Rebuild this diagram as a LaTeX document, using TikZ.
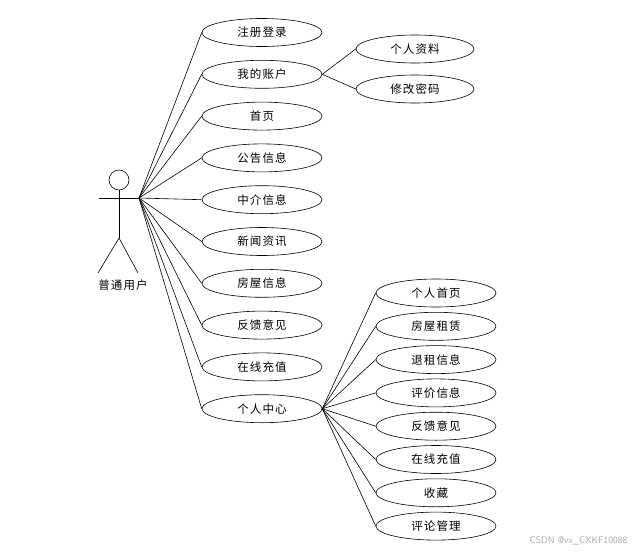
\documentclass[tikz,border=0pt]{standalone}
\usepackage{fontspec}
\newfontfamily\cjk[LetterSpace=10]{Noto Sans CJK SC}
\usetikzlibrary{positioning, shapes.geometric}

\begin{document}
\begin{tikzpicture}[
  x=1pt, y=-1pt, line width=0.6pt,
  every node/.style={font=\cjk\fontsize{11.5}{14}\selectfont},
  usecase/.style={draw, ellipse, minimum width=120pt, minimum height=28pt,
    inner sep=0pt},
  link/.style={draw, line width=0.6pt}
]
  \useasboundingbox (0,0) rectangle (638,552);

  % Actor
  \draw (119,180) circle (10);
  \draw (119,190) -- (119,238);
  \draw (99,198) -- (139,198);
  \draw (119,238) -- (98,273);
  \draw (119,238) -- (138,273);
  \coordinate (hand) at (139,198);
  \node (user) at (123,285) {普通用户};

  % Use cases of the user
  \node[usecase] (zcdl) at (262,32.5) {注册登录};
  \node[usecase] (wdzh) at (262,74.3) {我的账户};
  \node[usecase] (sy)   at (262,116.1) {首页};
  \node[usecase] (ggxx) at (262,157.9) {公告信息};
  \node[usecase] (zjxx) at (262,199.7) {中介信息};
  \node[usecase] (xwzx) at (262,241.5) {新闻资讯};
  \node[usecase] (fwxx) at (262,283.3) {房屋信息};
  \node[usecase] (fkyj) at (262,325.1) {反馈意见};
  \node[usecase] (zxcz) at (262,366.9) {在线充值};
  \node[usecase] (grzx) at (262,408.7) {个人中心};

  % My account
  \node[usecase, minimum width=118pt] (grzl) at (415,49) {个人资料};
  \node[usecase, minimum width=118pt] (xgmm) at (415,89) {修改密码};

  % Personal centre
  \node[usecase] (grsy) at (436,293.0) {个人首页};
  \node[usecase] (fwzl) at (436,326.3) {房屋租赁};
  \node[usecase] (tzxx) at (436,359.6) {退租信息};
  \node[usecase] (pjxx) at (436,392.9) {评价信息};
  \node[usecase] (grfk) at (436,426.2) {反馈意见};
  \node[usecase] (grcz) at (436,459.5) {在线充值};
  \node[usecase] (sc)   at (436,492.8) {收藏};
  \node[usecase] (plgl) at (436,526.1) {评论管理};

  % Links from the actor
  \draw[link] (hand) -- (zcdl.west);
  \draw[link] (hand) -- (wdzh.west);
  \draw[link] (hand) -- (sy.west);
  \draw[link] (hand) -- (ggxx.west);
  \draw[link] (hand) -- (zjxx.west);
  \draw[link] (hand) -- (xwzx.west);
  \draw[link] (hand) -- (fwxx.west);
  \draw[link] (hand) -- (fkyj.west);
  \draw[link] (hand) -- (zxcz.west);
  \draw[link] (hand) -- (grzx.west);

  % Links from my account
  \draw[link] (wdzh.east) -- (grzl.west);
  \draw[link] (wdzh.east) -- (xgmm.west);

  % Links from personal centre
  \draw[link] (grzx.east) -- (grsy.west);
  \draw[link] (grzx.east) -- (fwzl.west);
  \draw[link] (grzx.east) -- (tzxx.west);
  \draw[link] (grzx.east) -- (pjxx.west);
  \draw[link] (grzx.east) -- (grfk.west);
  \draw[link] (grzx.east) -- (grcz.west);
  \draw[link] (grzx.east) -- (sc.west);
  \draw[link] (grzx.east) -- (plgl.west);

  % Watermark
  \node[font=\sffamily\fontsize{9.5}{11}\selectfont, text=black!35, anchor=east]
    (mark) at (631,541) {CSDN @vx\_CXKF10088};
\end{tikzpicture}
\end{document}
